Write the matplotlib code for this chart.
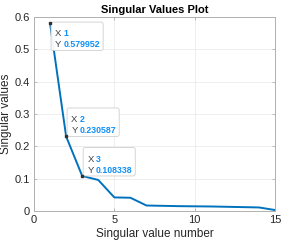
import numpy as np
import matplotlib
matplotlib.use('Agg')
import matplotlib.pyplot as plt
from matplotlib.patches import FancyBboxPatch
from matplotlib.transforms import Affine2D, ScaledTranslation

plt.rcParams['font.family'] = ['Liberation Sans', 'DejaVu Sans']

# singular values
idx = list(range(1, 16))
sv = [0.579952, 0.230587, 0.108338, 0.096, 0.042, 0.041, 0.017, 0.016,
      0.015, 0.0145, 0.014, 0.013, 0.012, 0.011, 0.003]
tip_idx = [1, 2, 3]
tip_labels = ['0.579952', '0.230587', '0.108338']

BLUE = '#0072BD'
TIP_BLUE = '#1190f5'
TXT = '#262626'

fig = plt.figure(figsize=(2.99, 2.44), dpi=100)
ax = fig.add_axes([34 / 299, 33 / 244, 241 / 299, 194 / 244])
ax.plot(idx, sv, color=BLUE, linewidth=1.4)

ax.set_xlim(0, 15)
ax.set_ylim(0, 0.6)
ax.set_xticks([0, 5, 10, 15])
ax.set_yticks([0, 0.1, 0.2, 0.3, 0.4, 0.5, 0.6])
ax.set_yticklabels(['0', '0.1', '0.2', '0.3', '0.4', '0.5', '0.6'])
ax.grid(True, color='#ebebeb', linewidth=0.6)
ax.set_axisbelow(True)
for s in ax.spines.values():
    s.set_color('#b0b0b0')
    s.set_linewidth(0.7)
ax.tick_params(direction='in', length=2.5, width=0.6, color='#b0b0b0',
               labelsize=8, labelcolor=TXT, top=True, right=True,
               labeltop=False, labelright=False, pad=3)
ax.set_xlabel('Singular value number', fontsize=8.5, color=TXT, labelpad=2)
ax.set_ylabel('Singular values', fontsize=8.5, color=TXT, labelpad=2)
ax.set_title('Singular Values Plot', fontsize=8, fontweight='bold', pad=3)

# data tips: box geometry in points, anchored on the data point
BOX_W, BOX_H = 37.5, 20.5
for k, i in enumerate(tip_idx):
    x, y = idx[i - 1], sv[i - 1]
    trans = (Affine2D().scale(1 / 72) + fig.dpi_scale_trans
             + ScaledTranslation(x, y, ax.transData))
    ax.plot(x, y, 's', color='#303030', markersize=1.6, zorder=8)
    top = 1.0 if k == 0 else BOX_H  # first tip hangs below, others above
    left = 0.7
    box = FancyBboxPatch((left, top - BOX_H), BOX_W, BOX_H,
                         boxstyle='round,pad=0,rounding_size=1.5',
                         fc='white', ec='#cccccc', lw=0.6, alpha=0.95,
                         transform=trans, zorder=7, clip_on=False)
    ax.add_patch(box)
    for key, val, dy in [('X', str(i), 10.3), ('Y', tip_labels[k], 18.2)]:
        ax.text(left + 3.0, top - dy, key, transform=trans, fontsize=6.8,
                color='#404040', zorder=9, clip_on=False)
        ax.text(left + 8.8, top - dy, val, transform=trans, fontsize=6.3,
                fontweight='bold', color=TIP_BLUE, zorder=9, clip_on=False)

fig.savefig('out.png', dpi=100)
